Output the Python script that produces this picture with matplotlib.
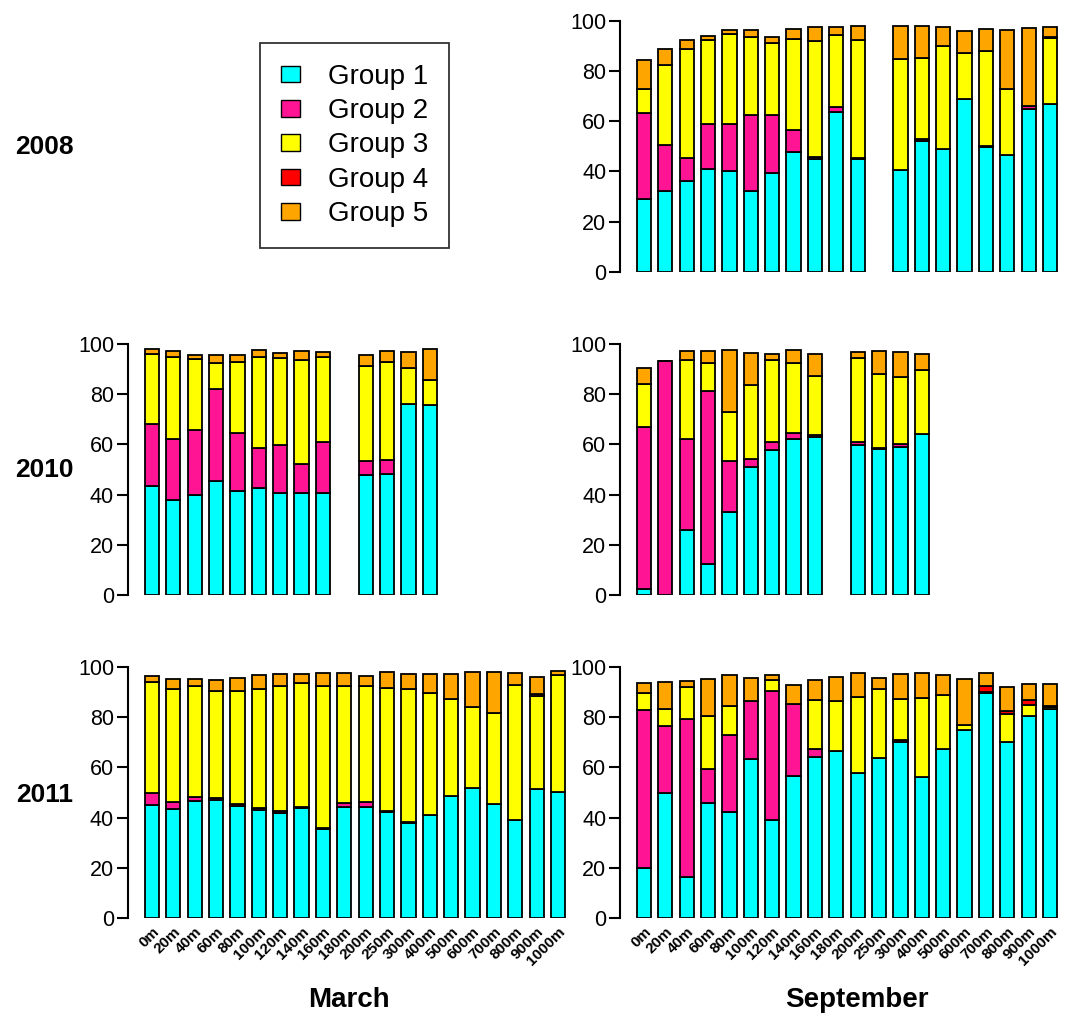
import numpy as np
import matplotlib.pyplot as plt
from matplotlib.patches import Patch

plt.rcParams['font.family'] = ['Liberation Sans', 'DejaVu Sans']

depths = ['0m', '20m', '40m', '60m', '80m', '100m', '120m', '140m', '160m', '180m',
          '200m', '250m', '300m', '400m', '500m', '600m', '700m', '800m', '900m', '1000m']
groups = ['Group 1', 'Group 2', 'Group 3', 'Group 4', 'Group 5']
colors = ['#00FFFF', '#FF1493', '#FFFF00', '#FF0000', '#FFA500']
nan = np.nan

# each panel: rows = Group 1..5, columns = depths (nan = no sample)
sep2008 = [
    [28.8, 32.0, 36.2, 41.1, 40.2, 32.0, 39.4, 47.7, 45.1, 63.5, 45.1, nan, 40.6, 52.0, 48.8, 69.0, 49.5, 46.4, 65.0, 67.0],
    [34.6, 18.3, 9.0, 17.9, 18.6, 30.3, 23.1, 8.9, 0.8, 2.1, 0.2, nan, 0.0, 0.8, 0.0, 0.0, 0.5, 0.0, 0.9, 0.0],
    [9.3, 31.9, 43.4, 33.2, 35.9, 31.2, 28.5, 36.0, 46.0, 28.8, 46.9, nan, 44.0, 32.3, 41.1, 18.0, 37.9, 26.3, 0.0, 26.2],
    [0.0, 0.0, 0.0, 0.0, 0.0, 0.0, 0.0, 0.0, 0.0, 0.0, 0.0, nan, 0.0, 0.0, 0.0, 0.0, 0.0, 0.0, 0.0, 0.4],
    [11.5, 6.7, 3.8, 1.7, 1.5, 2.7, 2.5, 4.0, 5.6, 3.1, 5.8, nan, 13.3, 12.8, 7.8, 8.9, 8.9, 23.7, 31.3, 3.9],
]
mar2010 = [
    [43.6, 37.9, 40.0, 45.5, 41.6, 42.6, 40.7, 40.7, 40.6, nan, 47.9, 48.1, 76.1, 75.9, nan, nan, nan, nan, nan, nan],
    [24.5, 24.2, 25.7, 36.7, 23.0, 16.0, 18.9, 11.4, 20.3, nan, 5.7, 5.9, 0.0, 0.0, nan, nan, nan, nan, nan, nan],
    [28.0, 32.8, 28.4, 10.4, 28.4, 36.2, 34.8, 41.7, 33.8, nan, 37.5, 39.0, 14.2, 9.7, nan, nan, nan, nan, nan, nan],
    [0.0, 0.0, 0.0, 0.0, 0.0, 0.0, 0.0, 0.0, 0.0, nan, 0.0, 0.0, 0.0, 0.0, nan, nan, nan, nan, nan, nan],
    [1.8, 2.2, 1.6, 3.1, 2.7, 2.8, 1.9, 3.4, 2.1, nan, 4.4, 4.3, 6.5, 12.3, nan, nan, nan, nan, nan, nan],
]
sep2010 = [
    [2.5, 0.0, 26.1, 12.5, 33.1, 51.1, 57.7, 62.2, 62.8, nan, 59.6, 58.1, 58.8, 64.1, nan, nan, nan, nan, nan, nan],
    [64.4, 93.4, 35.9, 68.8, 20.4, 3.2, 3.3, 2.2, 0.9, nan, 1.4, 0.4, 1.2, 0.0, nan, nan, nan, nan, nan, nan],
    [17.1, 0.0, 31.6, 11.1, 19.5, 29.2, 32.6, 28.2, 23.7, nan, 33.4, 29.5, 27.0, 25.4, nan, nan, nan, nan, nan, nan],
    [0.0, 0.0, 0.0, 0.0, 0.0, 0.0, 0.0, 0.0, 0.0, nan, 0.0, 0.0, 0.0, 0.0, nan, nan, nan, nan, nan, nan],
    [6.3, 0.0, 3.5, 4.8, 24.6, 12.8, 2.4, 5.0, 8.7, nan, 2.4, 9.1, 9.7, 6.5, nan, nan, nan, nan, nan, nan],
]
mar2011 = [
    [44.9, 43.6, 46.7, 47.0, 44.8, 43.2, 41.8, 43.7, 35.5, 44.4, 44.1, 42.1, 37.7, 41.2, 48.5, 51.8, 45.4, 38.9, 51.4, 50.1],
    [4.8, 2.6, 1.5, 0.8, 0.6, 0.5, 1.0, 0.7, 0.5, 1.4, 2.1, 0.7, 0.5, 0.0, 0.0, 0.0, 0.0, 0.0, 0.0, 0.0],
    [44.3, 45.0, 44.4, 42.8, 45.2, 47.7, 49.8, 49.1, 56.6, 46.8, 46.1, 48.8, 53.0, 48.6, 38.9, 32.3, 36.3, 54.1, 37.2, 46.8],
    [0.0, 0.0, 0.0, 0.0, 0.0, 0.0, 0.0, 0.0, 0.0, 0.0, 0.0, 0.0, 0.0, 0.0, 0.0, 0.0, 0.0, 0.0, 0.5, 0.0],
    [2.3, 3.9, 2.5, 4.2, 5.0, 5.3, 4.5, 3.6, 5.0, 4.9, 4.2, 6.4, 6.0, 7.4, 9.8, 13.9, 16.2, 4.5, 6.8, 1.5],
]
sep2011 = [
    [19.9, 49.9, 16.5, 45.8, 42.1, 63.2, 39.0, 56.4, 64.3, 66.5, 57.9, 63.9, 70.3, 56.3, 67.2, 75.0, 89.5, 70.3, 80.6, 83.3],
    [62.8, 26.7, 62.8, 13.7, 30.8, 23.1, 51.4, 29.0, 3.2, 0.0, 0.0, 0.0, 0.6, 0.0, 0.0, 0.0, 0.7, 0.0, 0.0, 0.0],
    [6.9, 6.7, 12.9, 20.8, 11.4, 0.2, 4.6, 0.0, 19.4, 19.8, 30.0, 27.2, 16.4, 31.5, 21.6, 1.9, 0.0, 10.8, 4.3, 0.6],
    [0.0, 0.0, 0.0, 0.0, 0.0, 0.0, 0.0, 0.0, 0.0, 0.0, 0.0, 0.0, 0.0, 0.0, 0.0, 0.0, 2.1, 1.5, 2.0, 0.7],
    [4.2, 10.7, 2.2, 15.1, 12.6, 9.1, 1.8, 7.3, 7.8, 9.7, 9.7, 4.5, 9.8, 9.8, 8.1, 18.5, 5.2, 9.3, 6.5, 8.5],
]


def draw_panel(ax, data, show_labels):
    data = np.array(data, dtype=float)
    x = np.arange(len(depths))
    keep = ~np.isnan(data[0])
    bottom = np.zeros(keep.sum())
    for vals, c in zip(data, colors):
        v = vals[keep]
        ax.bar(x[keep], v, bottom=bottom, width=0.667, color=c,
               edgecolor='black', linewidth=1.3)
        bottom += v
    ax.set_xlim(-1.12, 20.12)
    ax.set_ylim(0, 100)
    for s in ['top', 'right', 'bottom']:
        ax.spines[s].set_visible(False)
    ax.spines['left'].set_bounds(0, 100)
    ax.spines['left'].set_linewidth(1.5)
    ax.set_yticks([0, 20, 40, 60, 80, 100])
    ax.tick_params(axis='y', length=8, width=1.5, labelsize=15.5, pad=2)
    ax.tick_params(axis='x', length=0)
    if show_labels:
        ax.set_xticks(x)
        ax.set_xticklabels(depths, rotation=45, ha='right', rotation_mode='anchor',
                           fontsize=11, fontweight='bold')
        ax.tick_params(axis='x', pad=5)
    else:
        ax.set_xticks([])


fig = plt.figure(figsize=(10.65, 10.17), dpi=100)

lx, rx, w, h = 0.1202, 0.5822, 0.4263, 0.2468
ax08 = fig.add_axes([rx, 0.7328, w, h])
ax10m = fig.add_axes([lx, 0.4149, w, h])
ax10s = fig.add_axes([rx, 0.4149, w, h])
ax11m = fig.add_axes([lx, 0.0973, w, h])
ax11s = fig.add_axes([rx, 0.0973, w, h])

draw_panel(ax08, sep2008, False)
draw_panel(ax10m, mar2010, False)
draw_panel(ax10s, sep2010, False)
draw_panel(ax11m, mar2011, True)
draw_panel(ax11s, sep2011, True)

# legend in the empty top-left slot
handles = [Patch(facecolor=c, edgecolor='black', linewidth=1) for c in colors]
leg = fig.legend(handles, groups, loc='center', bbox_to_anchor=(0.333, 0.857),
                 fontsize=20, frameon=True, fancybox=False, edgecolor='black',
                 handlelength=0.7, handleheight=0.55, handletextpad=1.0,
                 labelspacing=0.3, borderpad=0.75)
leg.get_frame().set_linewidth(1.3)

# row and column labels
for yy, lab in [(0.855, '2008'), (0.538, '2010'), (0.218, '2011')]:
    fig.text(0.042, yy, lab, fontsize=19, fontweight='bold', ha='center', va='center')
fig.text(0.328, 0.017, 'March', fontsize=20, fontweight='bold', ha='center', va='center')
fig.text(0.805, 0.017, 'September', fontsize=20, fontweight='bold', ha='center', va='center')

fig.savefig('out.png', dpi=100)
